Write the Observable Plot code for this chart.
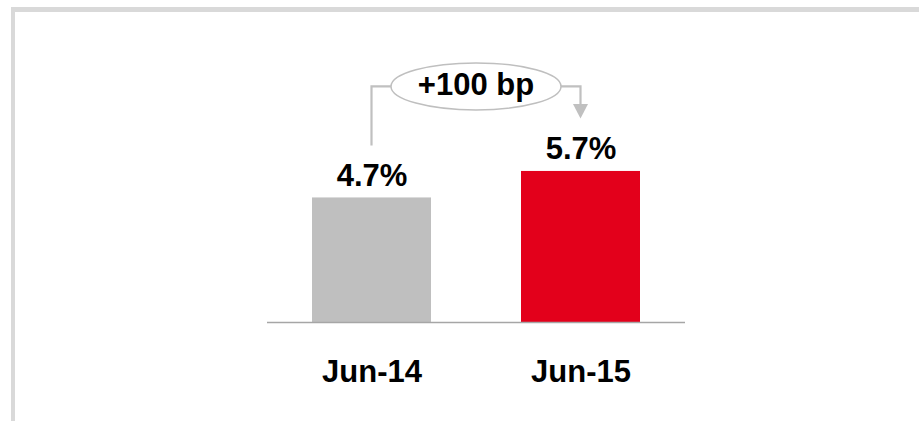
<!DOCTYPE html>
<html><head><meta charset="utf-8">
<script src="https://cdn.jsdelivr.net/npm/d3@7"></script>
<script src="https://cdn.jsdelivr.net/npm/@observablehq/plot@0.6"></script>
<style>
body{margin:0;background:#fff;}
#wrap{position:relative;width:919px;height:421px;overflow:hidden;}
#frame{position:absolute;left:11px;top:7px;width:1000px;height:500px;border-top:5px solid #d9d9d9;border-left:4px solid #d9d9d9;}
#wrap svg{position:absolute;left:0;top:0;}
</style></head><body><div id="wrap"><div id="frame"></div></div>
<script>
const periods = ["Jun-14", "Jun-15"];
const values = [4.7, 5.7];
const valueLabels = ["4.7%", "5.7%"];
const barColors = ["#bfbfbf", "#e3001b"];
const changeLabel = "+100 bp";

const data = periods.map((p, i) => ({period: p, value: values[i], label: valueLabels[i]}));
const font = "'Liberation Sans', Arial, sans-serif";

const plot = Plot.plot({
  width: 919, height: 421,
  marginTop: 57, marginBottom: 99, marginLeft: 267, marginRight: 234,
  style: {fontFamily: font, background: "transparent", overflow: "visible"},
  x: {domain: periods, paddingInner: 0.43, paddingOuter: 0.215, label: null},
  y: {domain: [0, 10], axis: null},
  color: {domain: periods, range: barColors},
  marks: [
    Plot.barY(data, {x: "period", y: "value", fill: "period"}),
    Plot.ruleY([0], {stroke: "#a6a6a6", strokeWidth: 1.5}),
    Plot.text(data, {x: "period", y: "value", text: "label", lineAnchor: "bottom", dy: -12,
      fontSize: 31, fontWeight: "bold", fill: "#000"}),
    Plot.axisX({tickSize: 0, tickPadding: 37, fontSize: 31, fontWeight: "bold", color: "#000", label: null})
  ]
});
document.getElementById("wrap").appendChild(plot);

// change annotation derived from scales
const xs = plot.scale("x"), ys = plot.scale("y");
const bw = xs.bandwidth;
const cx = periods.map(p => xs.apply(p) + bw / 2);
const topY = values.map(v => ys.apply(v));
const bracketY = topY[1] - 84.5;
const ex = (cx[0] + cx[1]) / 2, rx = 85, ry = 23.5;
const g = d3.select(plot).append("g");
const lineCol = "#c0c0c0";
g.append("path")
  .attr("d", `M${cx[0]},${topY[0] - 52}V${bracketY}H${ex}`)
  .attr("fill", "none").attr("stroke", lineCol).attr("stroke-width", 2.2);
g.append("path")
  .attr("d", `M${ex},${bracketY}H${cx[1]}V${topY[1] - 66}`)
  .attr("fill", "none").attr("stroke", lineCol).attr("stroke-width", 2.2);
g.append("path")
  .attr("d", `M${cx[1] - 7.5},${topY[1] - 67}L${cx[1] + 7.5},${topY[1] - 67}L${cx[1]},${topY[1] - 52.5}Z`)
  .attr("fill", lineCol);
g.append("ellipse")
  .attr("cx", ex).attr("cy", bracketY).attr("rx", rx).attr("ry", ry)
  .attr("fill", "#fff").attr("stroke", "#bfbfbf").attr("stroke-width", 1.5);
g.append("text")
  .attr("x", ex).attr("y", bracketY + 8.6)
  .attr("text-anchor", "middle")
  .attr("font-family", font).attr("font-weight", "bold").attr("font-size", 31)
  .attr("fill", "#000")
  .text(changeLabel);
</script>
</body></html>
